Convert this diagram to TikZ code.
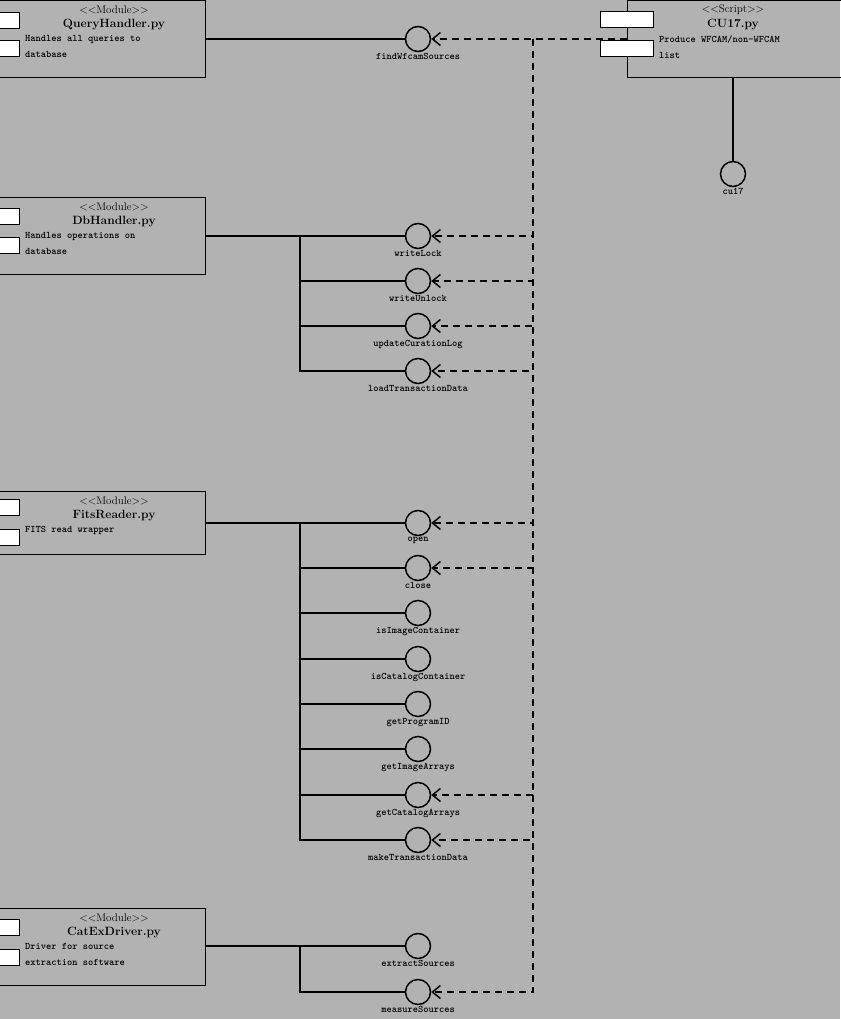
\documentclass[tikz,border=0pt]{standalone}
\usepackage{tikz}
\usetikzlibrary{arrows.meta}
\usetikzlibrary{positioning}
\usetikzlibrary{calc}
\definecolor{bggray}{gray}{0.7}
\tikzset{
  iface/.style={circle, draw, line width=1.5pt, minimum size=25pt, inner sep=0pt},
  modbox/.style={draw, line width=0.8pt, anchor=north west, minimum height=77pt, minimum width=206pt},
  port/.style={draw, line width=0.8pt, fill=white, minimum width=20pt, minimum height=16pt, inner sep=0pt},
  lbl/.style={font=\ttfamily\bfseries\fontsize{10}{16}\selectfont},
  dep/.style={line width=1.5pt, dash pattern=on 7pt off 5pt, -{Straight Barb[length=8pt,width=13pt]}},
  wire/.style={line width=1.5pt}
}
\newcommand{\modtext}[4]{% position, stereotype, name, description
  \node[font=\fontsize{11}{12}\selectfont] at ($(#1)+(115,10)$) {$<<$#2$>>$};
  \node[font=\fontsize{12}{14}\selectfont\bfseries] at ($(#1)+(115,25)$) {#3};
  \node[lbl, anchor=north west, align=left, inner sep=0pt] at ($(#1)+(26,35)$) {#4};}
\begin{document}
\begin{tikzpicture}[x=1pt, y=-1pt]
\fill[bggray] (0,0) rectangle (840,1019);
\useasboundingbox (0,0) rectangle (840,1019);

% modules
\node[modbox] (query) at (-1,0) {};
\node[port] at (9,20) {};
\node[port] at (9,48) {};
\modtext{-1,0}{Module}{QueryHandler.py}{Handles all queries to\\database}

\node[modbox] (db) at (-1,197) {};
\node[port] at (9,216) {};
\node[port] at (9,245) {};
\modtext{-1,197}{Module}{DbHandler.py}{Handles operations on\\database}

\node[modbox, minimum height=63pt] (fits) at (-1,491) {};
\node[port] at (9,507) {};
\node[port] at (9,537) {};
\modtext{-1,491}{Module}{FitsReader.py}{FITS read wrapper}

\node[modbox] (catex) at (-1,908) {};
\node[port] at (9,927) {};
\node[port] at (9,957) {};
\modtext{-1,908}{Module}{CatExDriver.py}{Driver for source\\extraction software}

% script
\node[modbox, minimum width=214pt] (cu17) at (627,0) {};
\node[port, minimum width=53pt] at (627,19) {};
\node[port, minimum width=53pt] at (627,48) {};
\node[font=\fontsize{11}{12}\selectfont] at (733,10) {$<<$Script$>>$};
\node[font=\fontsize{12}{14}\selectfont\bfseries] at (733,25) {CU17.py};
\node[lbl, anchor=north west, align=left, inner sep=0pt] at (659,35) {Produce WFCAM/non-WFCAM\\list};

% interfaces
\node[iface, label={[lbl, inner sep=1pt]below:findWfcamSources}] (find) at (418,39) {};
\node[iface, label={[lbl, inner sep=1pt]below:cu17}] (cuif) at (733,174) {};
\foreach \nm/\yy/\tx in {wl/236/writeLock, wu/281/writeUnlock, ucl/326/updateCurationLog, ltd/371/loadTransactionData,
    op/523/open, cl/568/close, iic/613/isImageContainer, icc/659/isCatalogContainer, gpi/704/getProgramID,
    gia/749/getImageArrays, gca/795/getCatalogArrays, mtd/840/makeTransactionData,
    es/946/extractSources, ms/992/measureSources}
  \node[iface, label={[lbl, inner sep=1pt]below:\tx}] (\nm) at (418,\yy) {};

% realisations
\draw[wire] (query.east |- find) -- (find);
\draw[wire] (cu17.south -| cuif) -- (cuif);
\draw[wire] (db.east |- wl) -- (wl);
\foreach \nm in {wu, ucl, ltd}
  \draw[wire] (300,236) |- (\nm);
\draw[wire] (fits.east |- op) -- (op);
\foreach \nm in {cl, iic, icc, gpi, gia, gca, mtd}
  \draw[wire] (300,523) |- (\nm);
\draw[wire] (catex.east |- es) -- (es);
\draw[wire] (300,946) |- (ms);

% dependencies of CU17
\coordinate (hub) at (533,39);
\draw[dep] (627,39) -- (find);
\foreach \nm in {wl, wu, ucl, ltd, op, cl, gca, mtd, ms}
  \draw[dep] (hub) |- (\nm);
\end{tikzpicture}
\end{document}
